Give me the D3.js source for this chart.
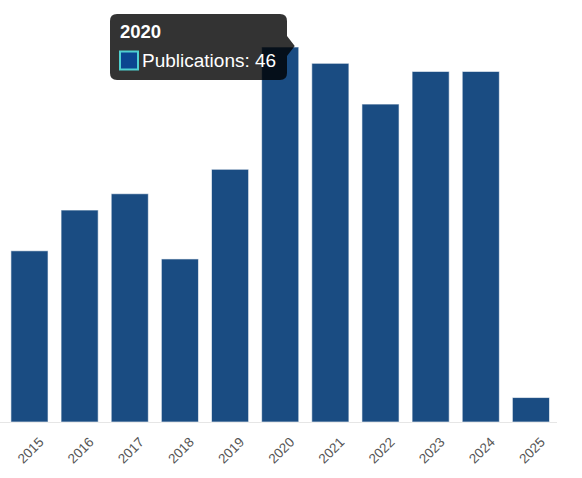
<!DOCTYPE html>
<html>
<head>
<meta charset="utf-8">
<script src="https://cdn.jsdelivr.net/npm/d3@7"></script>
<style>
  html, body { margin: 0; padding: 0; background: #fff; }
  svg { display: block; font-family: "Liberation Sans", Arial, sans-serif; }
</style>
</head>
<body>
<svg id="chart" width="582" height="478"></svg>
<script>
const years = ["2015","2016","2017","2018","2019","2020","2021","2022","2023","2024","2025"];
const publications = [21, 26, 28, 20, 31, 46, 44, 39, 43, 43, 3];
const seriesName = "Publications";
const hoveredYear = "2020";

const svg = d3.select("#chart");

const x = d3.scaleBand().domain(years).range([4.4, 556]).paddingInner(0.26).paddingOuter(0.13);
const y = d3.scaleLinear().domain([0, d3.max(publications)]).range([422, 47]);

const data = years.map((yr, i) => ({ year: yr, value: publications[i] }));

// axis line
svg.append("line")
  .attr("x1", 0).attr("x2", 557)
  .attr("y1", 422.5).attr("y2", 422.5)
  .attr("stroke", "#e6e6e6").attr("stroke-width", 1);

// bars
svg.append("g").selectAll("rect").data(data).join("rect")
  .attr("x", d => x(d.year))
  .attr("y", d => y(d.value))
  .attr("width", x.bandwidth())
  .attr("height", d => y(0) - y(d.value))
  .attr("fill", "#1a4c82")
  .attr("stroke", "#ffffff")
  .attr("stroke-opacity", 0.6)
  .attr("stroke-width", 1);

// x axis labels
const xAxis = d3.axisBottom(x).tickSize(0).tickPadding(0);
const gx = svg.append("g").attr("transform", "translate(0,422)").call(xAxis);
gx.select(".domain").remove();
gx.selectAll(".tick text")
  .attr("transform", "translate(15,21) rotate(-45)")
  .attr("text-anchor", "end")
  .attr("dy", 0)
  .attr("y", 0)
  .attr("x", 0)
  .attr("fill", "#555")
  .style("font-size", "13.5px")
  .style("font-family", "'Liberation Sans', Arial, sans-serif");

// tooltip
const hv = data.find(d => d.year === hoveredYear);
const tipX = x(hv.year) + x.bandwidth() - 4, tipY = y(hv.value) - 1;
const bx0 = 110, by0 = 14, bx1 = 287, by1 = 80, r = 7;
const path = `M${bx0 + r},${by0} H${bx1 - r} Q${bx1},${by0} ${bx1},${by0 + r}
  V36 L${tipX},${tipY} L${bx1},56 V${by1 - r} Q${bx1},${by1} ${bx1 - r},${by1}
  H${bx0 + r} Q${bx0},${by1} ${bx0},${by1 - r} V${by0 + r} Q${bx0},${by0} ${bx0 + r},${by0} Z`;
const tip = svg.append("g");
tip.append("path").attr("d", path).attr("fill", "rgba(0,0,0,0.8)");
tip.append("text").attr("x", 120).attr("y", 38)
  .attr("fill", "#fff").style("font-size", "18.5px").style("font-weight", "bold")
  .text(hv.year);
tip.append("rect").attr("x", 120).attr("y", 51.5).attr("width", 18).attr("height", 18)
  .attr("fill", "#0b4690").attr("stroke", "#4fd1d1").attr("stroke-width", 2);
tip.append("text").attr("x", 142).attr("y", 67)
  .attr("fill", "#fff").style("font-size", "19px")
  .text(`${seriesName}: ${hv.value}`);
</script>
</body>
</html>
